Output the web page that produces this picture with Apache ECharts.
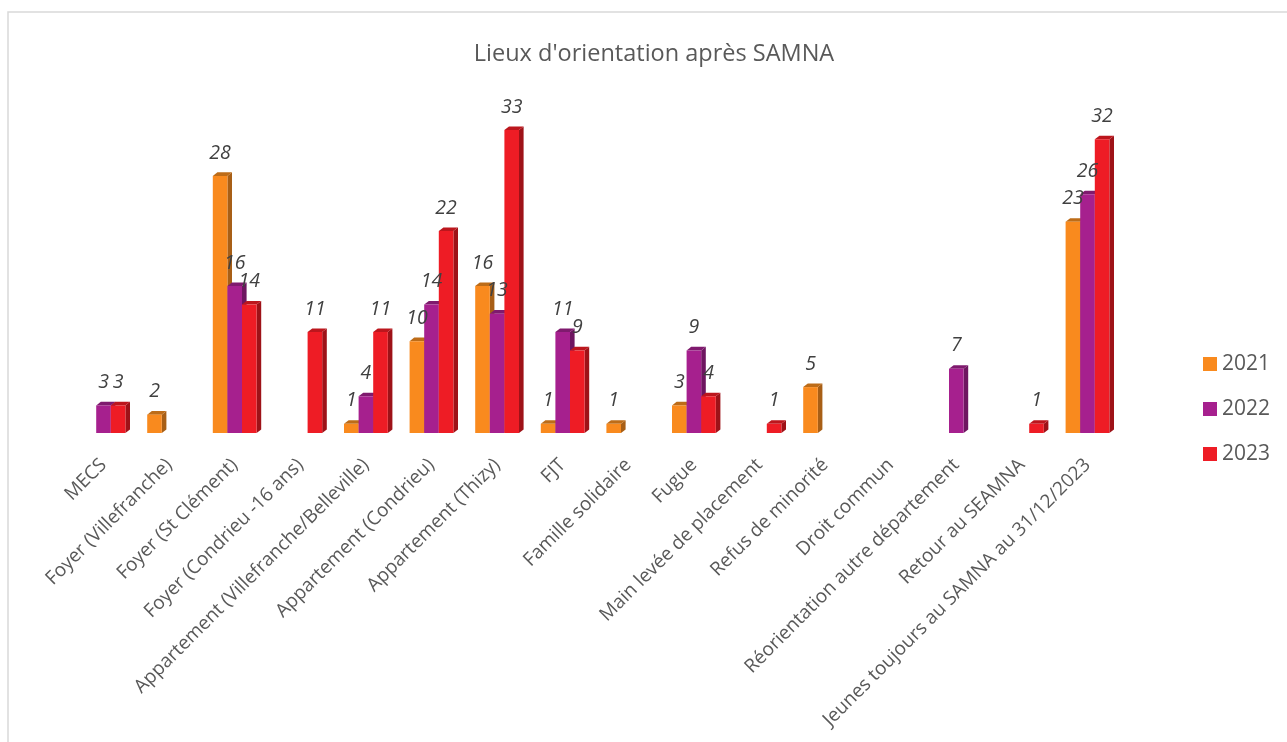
<!DOCTYPE html>
<html><head><meta charset="utf-8">
<style>html,body{margin:0;padding:0;background:#fff}#c{width:1287px;height:742px}</style>
<script src="https://cdn.jsdelivr.net/npm/echarts@6/dist/echarts.min.js"></script>
</head><body><div id="c"></div>
<script>
const categories=["MECS","Foyer (Villefranche)","Foyer (St Clément)","Foyer (Condrieu -16 ans)","Appartement (Villefranche/Belleville)","Appartement (Condrieu)","Appartement (Thizy)","FJT","Famille solidaire","Fugue","Main levée de placement","Refus de minorité","Droit commun","Réorientation autre département","Retour au SEAMNA","Jeunes toujours au SAMNA au 31/12/2023"];
const v2021=[null,2,28,null,1,10,16,1,1,3,null,5,null,null,null,23];
const v2022=[3,null,16,null,4,14,13,11,null,9,null,null,null,7,null,26];
const v2023=[3,null,14,11,11,22,33,9,null,4,1,null,null,null,1,32];
const names=["2021","2022","2023"];
const front=["#F98A1E","#A6208E","#EE1C25"];
const side=["#A85F16","#6E1660","#9E1218"];
const topc=["#BD6C18","#7F1A6E","#BC161D"];
const BW=14.6,DX=4.6,DY=3.6;
function mk(i,data){
  return {name:names[i],type:'custom',itemStyle:{color:front[i]},
    data:data.map((d,k)=>[k,d]),encode:{x:0,y:1},
    renderItem(p,api){
      const val=api.value(1);
      if(val===null||isNaN(val))return null;
      const t=api.coord([api.value(0),val]),b=api.coord([api.value(0),0]);
      const x0=t[0]+(i-1)*BW-BW/2,x1=x0+BW,y0=t[1],y1=b[1];
      return {type:'group',children:[
        {type:'polygon',z2:i*3,shape:{points:[[x1,y0],[x1+DX,y0-DY],[x1+DX,y1-DY],[x1,y1]]},style:{fill:side[i]}},
        {type:'polygon',z2:i*3+1,shape:{points:[[x0,y0],[x0+DX,y0-DY],[x1+DX,y0-DY],[x1,y0]]},style:{fill:topc[i]}},
        {type:'rect',z2:i*3+2,shape:{x:x0,y:y0,width:BW,height:y1-y0},style:{fill:front[i]}},
        {type:'text',z2:100,style:{text:String(val),x:(x0+x1)/2,y:y0-23,align:'center',verticalAlign:'middle',
          font:'italic 19.5px "Open Sans"',fill:'#404040'}}
      ]};
    }};
}
const chart=echarts.init(document.getElementById('c'),null,{renderer:'canvas'});
chart.setOption({
  animation:false,backgroundColor:'#fff',
  title:{text:"Lieux d'orientation après SAMNA",left:649,top:37,textAlign:'center',
    textStyle:{fontFamily:'Open Sans',fontWeight:'normal',fontSize:23.5,color:'#595959'}},
  legend:{orient:'vertical',left:1198,top:348.5,itemWidth:14,itemHeight:14,itemGap:24,
    icon:'rect',data:names,selectedMode:false,
    textStyle:{fontFamily:'Open Sans',fontSize:21,color:'#595959'}},
  grid:{left:70.7,width:1049.6,top:111.7,height:321.3},
  xAxis:{type:'category',data:categories,axisLine:{show:false},axisTick:{show:false},
    axisLabel:{interval:0,rotate:45,margin:29,fontFamily:'Open Sans',fontSize:19,color:'#595959'}},
  yAxis:{type:'value',min:0,max:35,show:false,splitLine:{show:false}},
  series:[mk(0,v2021),mk(1,v2022),mk(2,v2023)],
  graphic:[
    {type:'rect',silent:true,shape:{x:8,y:12,width:1300,height:760},style:{fill:'none',stroke:'#D9D9D9',lineWidth:1.5}}
  ]
});
</script></body></html>
